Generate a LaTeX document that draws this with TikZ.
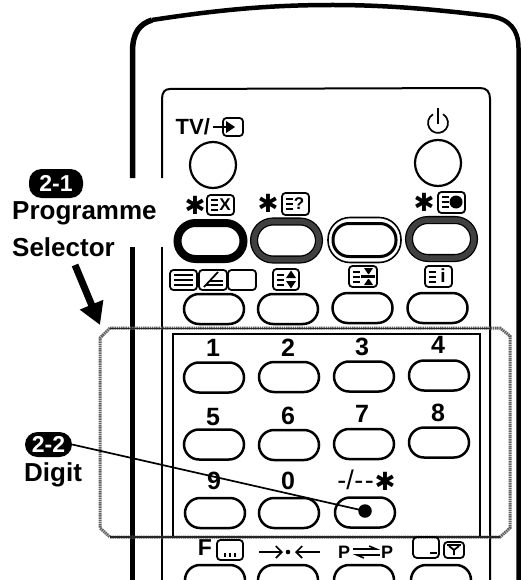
\documentclass[tikz,border=0pt]{standalone}
\usepackage{fontspec}
\setmainfont{Liberation Sans}
\newfontfamily\symfont{DejaVu Sans}
\usetikzlibrary{arrows.meta,patterns}
\tikzset{
  x=1pt,y=-1pt,
  btn/.style={draw=black,line width=2.5pt,rounded corners=15pt,minimum width=60pt,minimum height=30pt,inner sep=0pt,fill=white},
  round btn/.style={draw=black,line width=2.2pt,circle,minimum size=46pt,inner sep=0pt},
  digit/.style={font=\bfseries\fontsize{25}{25}\selectfont,inner sep=0pt},
  lab/.style={font=\bfseries\fontsize{26}{26}\selectfont,inner sep=0pt,anchor=west},
  badge/.style={fill=black,text=white,rounded corners=12.5pt,font=\bfseries\fontsize{23}{23}\selectfont,inner sep=0pt},
  ico/.style={draw=black,line width=1.8pt,rounded corners=3.5pt},
  bars/.style={line width=1.7pt},
  casing/.style={line width=5.5pt},
  thinl/.style={line width=2pt},
  stars/.style={font=\symfont\fontsize{25}{25}\selectfont,inner sep=0pt},
  gring/.style={draw=black,line width=1.3pt,double=black!75,double distance=5.5pt,rounded corners=19pt,minimum width=65pt,minimum height=38pt,inner sep=0pt},
}
\newcommand{\ibars}[2]{\draw[bars] (#1+4,#2+5)--(#1+11,#2+5) (#1+4,#2+10)--(#1+11,#2+10) (#1+4,#2+15)--(#1+11,#2+15);}
\begin{document}
\begin{tikzpicture}
\useasboundingbox (0,0) rectangle (521,580);
\fill[white] (0,0) rectangle (521,580);
% casing
\draw[casing] (132.5,580)--(132.5,247);
\draw[casing] (132.5,178)--(132.5,52) .. controls (132.5,32) and (140,24) .. (152,20);
\draw[line width=4.5pt] (152,20) .. controls (230,8) and (280,5) .. (333,5) .. controls (390,5) and (440,10) .. (490,16) .. controls (510,19) and (518.5,30) .. (518.5,48) -- (518.5,580);
% panel
\draw[thinl] (162,580)--(162,247);
\draw[thinl] (162,178)--(162,99) .. controls (162,92) and (165,89) .. (170,89) -- (480,88) .. controls (487,88) and (490,92) .. (490,99) -- (490,580);
% dotted selector frame
\draw[black!62,line width=3pt,dash pattern=on 1.5pt off 0.7pt] (110,328)--(500,328)--(510,336)--(510,528)--(500,537)--(110,537)--(100,528)--(100,338)--cycle;
\draw[thinl] (173,537)--(173,334)--(480,334)--(480,537);
\draw[line width=1.5pt,black!85] (110,537)--(500,537);
\draw[line width=1.5pt,black!85] (110,328.5)--(490,328.5);
% top buttons
\node[round btn] (tv) at (213,165) {};
\node[round btn] (power) at (438,163) {};
% row two
\node[draw=black,line width=8pt,rounded corners=18pt,minimum width=66pt,minimum height=36pt,inner sep=0pt] (exit) at (210.5,241) {};
\node[gring] (help) at (286.5,240.5) {};
\node[draw=black,line width=1.6pt,rounded corners=22pt,minimum width=73pt,minimum height=45pt,inner sep=0pt] (midouter) at (364.5,240) {};
\node[draw=black,line width=3pt,rounded corners=16pt,minimum width=63pt,minimum height=33pt,inner sep=0pt] (mid) at (364.5,240) {};
\node[gring] (col) at (441.5,239) {};
% row three
\node[btn] (a1) at (214,309) {};
\node[btn] (a2) at (288,309) {};
\node[btn] (a3) at (362.5,308) {};
\node[btn] (a4) at (437.5,308) {};
% number rows
\node[btn] (n1) at (214,377.5) {};
\node[btn] (n2) at (289,377) {};
\node[btn] (n3) at (364,376.5) {};
\node[btn] (n4) at (439,375.5) {};
\node[btn] (n5) at (214,444.5) {};
\node[btn] (n6) at (289,445) {};
\node[btn] (n7) at (364,444) {};
\node[btn] (n8) at (439,442.5) {};
\node[btn] (n9) at (215,513) {};
\node[btn] (n0) at (289,513) {};
\node[btn] (n10) at (365,512.5) {};
% bottom row
\node[btn] (b1) at (215,580) {};
\node[btn] (b2) at (288,580) {};
\node[btn] (b3) at (364,580) {};
\node[btn] (b4) at (441,580) {};
% digit labels
\node[digit] (d1) at (213,348) {1};
\node[digit] (d2) at (288,348) {2};
\node[digit] (d3) at (362,347) {3};
\node[digit] (d4) at (438,345) {4};
\node[digit] (d5) at (213,417) {5};
\node[digit] (d6) at (288,416) {6};
\node[digit] (d7) at (362,414) {7};
\node[digit] (d8) at (438,413) {8};
\node[digit] (d9) at (214,481) {9};
\node[digit] (d0) at (288,481) {0};
\node[font=\fontsize{27}{27}\selectfont,inner sep=0pt] (dd) at (355.5,480) {-\kern0pt/\kern0.5pt-\kern1.5pt-};
\node[stars] (dds) at (385,481) {✱};
% labels
\node[badge,minimum width=54pt,minimum height=29pt] (b21) at (56,183.5) {2-1};
\node[lab] (prog) at (12,213) {Programme};
\node[lab] (sel) at (12,247) {Selector};
\node[badge,minimum width=47pt,minimum height=25pt] (b22) at (48.5,444.5) {2-2};
\node[lab] (dig) at (24,475) {Digit};
% arrow and leader
\coordinate (atail) at (75,265);
\coordinate (ahead) at (100,325);
\draw[line width=7pt,-{Triangle[length=22pt,width=24pt]}] (atail)--(ahead);
\node[circle,fill=black,minimum size=13.5pt,inner sep=0pt] (dot) at (365,511) {};
\draw[line width=1.7pt] (b22.east) -- (dot.center);
% TV label
\node[font=\bfseries\fontsize{22}{22}\selectfont,inner sep=0pt,anchor=west] (tvl) at (175.5,127) {TV/};
\draw[ico] (223,118) rectangle (243,136);
\draw[line width=1.5pt] (213,127)--(228,127);
\fill (226,121)--(235,127)--(226,133)--cycle;
% power icon
\draw[line width=1.7pt] (433,114.3) arc[start angle=240,end angle=-60,radius=10];
\draw[line width=1.7pt] (438,108)--(438,124);
% row 2 icons
\node[stars] (s1) at (195,205) {✱};
\draw[ico] (207,195) rectangle (234,215);
\ibars{207}{195}
\node[font=\bfseries\fontsize{17}{17}\selectfont,inner sep=0pt] (xx) at (225,205) {X};
\node[stars] (s2) at (268,203) {✱};
\draw[ico] (282,193) rectangle (309,215);
\ibars{282}{194}
\node[font=\bfseries\fontsize{17}{17}\selectfont,inner sep=0pt] (qq) at (299,204) {?};
\node[stars] (s4) at (424,202) {✱};
\draw[ico] (438,192) rectangle (465,213);
\ibars{438}{192}
\fill (456,202) circle (6.5);
% row 3 icons
\draw[ico] (170,270) rectangle (197,290);
\draw[line width=2.2pt] (174,275)--(193,275) (174,280)--(193,280) (174,285)--(193,285);
\draw[ico] (199,270) rectangle (227,290);
\draw[line width=1.8pt] (204,287)--(218,272);
\draw[line width=1.8pt] (209,281)--(223,281) (206,285)--(223,285);
\draw[ico] (228,270) rectangle (256,290);
\draw[ico] (273,269) rectangle (299,290);
\ibars{273}{270}
\fill (291,270.5)--(296,278)--(286,278)--cycle (291,288.5)--(296,281)--(286,281)--cycle;
\draw[ico] (349,266) rectangle (377,287);
\ibars{349}{267}
\fill (364,268)--(373,268)--(369,274)--(368,274)--cycle (364,285)--(373,285)--(369,279)--(368,279)--cycle;
\draw[line width=2.4pt] (361,276.5)--(375,276.5);
\draw[ico] (425,266) rectangle (452,287);
\ibars{425}{267}
\node[font=\bfseries\fontsize{19}{19}\selectfont,inner sep=0pt] (ii) at (443,276) {i};
% bottom icons
\node[font=\bfseries\fontsize{23}{23}\selectfont,inner sep=0pt] (fl) at (205,548) {F};
\draw[ico] (217,540) rectangle (243,560);
\draw[line width=1.8pt] (225,553)--(225,557) (230,553)--(230,557) (235,553)--(235,557);
\draw[line width=1.7pt,-{Straight Barb[length=6pt,width=12pt]}] (259,552)--(283,552);
\fill (288,552) circle (2.3);
\draw[line width=1.7pt,-{Straight Barb[length=6pt,width=12pt]}] (320,552)--(295,552);
\node[font=\bfseries\fontsize{18}{18}\selectfont,inner sep=0pt] (p1) at (344,552) {P};
\node[font=\bfseries\fontsize{18}{18}\selectfont,inner sep=0pt] (p2) at (387,552) {P};
\draw[line width=1.6pt,-{Straight Barb[left,length=7pt,width=6pt]}] (353,549)--(380,549);
\draw[line width=1.6pt,-{Straight Barb[left,length=7pt,width=6pt]}] (380,555)--(353,555);
\draw[ico,rounded corners=4pt] (413,537) rectangle (439,558);
\draw[line width=2pt] (430,553)--(437,553);
\draw[ico] (444,542) rectangle (464,558);
\draw[line width=1.8pt] (454,555)--(454,549) (449,546)--(454,550)--(459,546);
\draw[line width=1.3pt] (447,545)--(461,545);
\end{tikzpicture}
\end{document}
